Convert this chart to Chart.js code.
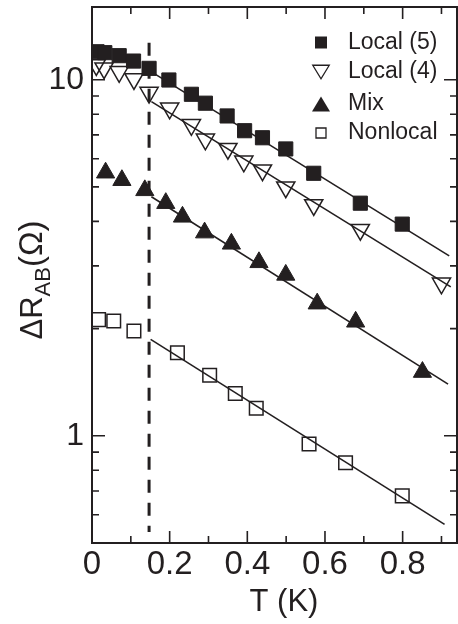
<!DOCTYPE html>
<html>
<head>
<meta charset="utf-8">
<script src="https://cdn.jsdelivr.net/npm/chart.js@4.4.1/dist/chart.umd.min.js"></script>
<style>
  html, body { margin: 0; padding: 0; background: #fff; }
  #wrap { width: 458px; height: 624px; position: relative; }
</style>
</head>
<body>
<div id="wrap"><canvas id="chart" width="458" height="624"></canvas></div>
<script>
const FONT = '"Liberation Sans", Arial, Helvetica, sans-serif';
const INK = '#231f20';

// measured points, T in K, dR in ohm
const local5T = [0.013, 0.033, 0.070, 0.107, 0.147, 0.198, 0.256, 0.292, 0.348, 0.393, 0.439, 0.499, 0.571, 0.691, 0.799];
const local5R = [11.98, 11.91, 11.68, 11.28, 10.76, 9.98, 9.10, 8.59, 7.91, 7.19, 6.87, 6.39, 5.46, 4.50, 3.93];

const local4T = [0.011, 0.031, 0.070, 0.108, 0.147, 0.200, 0.256, 0.292, 0.350, 0.391, 0.439, 0.499, 0.571, 0.691, 0.900];
const local4R = [11.00, 10.77, 10.52, 10.05, 9.20, 8.31, 7.47, 6.80, 6.40, 5.90, 5.57, 4.99, 4.45, 3.79, 2.68];

const mixT = [0.035, 0.077, 0.136, 0.190, 0.233, 0.290, 0.359, 0.430, 0.499, 0.580, 0.679, 0.851];
const mixR = [5.48, 5.22, 4.89, 4.50, 4.12, 3.72, 3.46, 3.07, 2.83, 2.35, 2.09, 1.51];

const nonlocalT = [0.017, 0.056, 0.108, 0.220, 0.303, 0.369, 0.423, 0.559, 0.653, 0.799];
const nonlocalR = [2.12, 2.10, 1.97, 1.71, 1.48, 1.315, 1.195, 0.948, 0.840, 0.678];

// straight fits (end points)
const fitLocal5T = [0.151, 0.920];
const fitLocal5R = [10.55, 3.20];
const fitLocal4T = [0.153, 0.924];
const fitLocal4R = [8.68, 2.62];
const fitMixT = [0.153, 0.917];
const fitMixR = [4.69, 1.397];
const fitNonlocalT = [0.151, 0.908];
const fitNonlocalR = [1.866, 0.564];

// vertical dashed marker
const cutoffT = [0.147, 0.147];
const cutoffR = [12.7, 0.537];

// axes
const xMin = 0, xMax = 0.94;
const yMin = 0.5, yMax = 16;
const xLabelTicks = [0, 0.2, 0.4, 0.6, 0.8];
const xMinorTicks = [0.1, 0.3, 0.5, 0.7, 0.9];
const yLabelTicks = [1, 10];
const yMinorTicks = [0.6, 0.7, 0.8, 0.9, 2, 3, 4, 5, 6, 7, 8, 9];

function pts(xs, ys) {
  return xs.map((x, i) => ({ x, y: ys[i] }));
}

function markerSet(label, xs, ys, style, filled, radius, rotation) {
  return {
    label,
    data: pts(xs, ys),
    showLine: false,
    pointStyle: style,
    pointRadius: radius,
    pointHoverRadius: radius,
    pointRotation: rotation || 0,
    pointBackgroundColor: filled ? INK : 'rgba(0,0,0,0)',
    pointBorderColor: INK,
    pointBorderWidth: filled ? 1 : 1.5,
  };
}

function fitSet(xs, ys) {
  return {
    label: '',
    data: pts(xs, ys),
    showLine: true,
    pointRadius: 0,
    borderColor: INK,
    borderWidth: 1.6,
    fill: false,
  };
}

// frame, inward ticks, titles, legend
const decorPlugin = {
  id: 'decor',
  afterDraw(chart) {
    const { ctx, chartArea: a, scales } = chart;
    const xs = scales.x, ys = scales.y;
    ctx.save();
    ctx.strokeStyle = INK;
    ctx.lineWidth = 2;
    ctx.strokeRect(a.left, a.top, a.right - a.left, a.bottom - a.top);

    ctx.lineWidth = 1.6;
    ctx.beginPath();
    const xt = (v, len) => {
      const p = xs.getPixelForValue(v);
      ctx.moveTo(p, a.bottom); ctx.lineTo(p, a.bottom - len);
      ctx.moveTo(p, a.top); ctx.lineTo(p, a.top + len);
    };
    const yt = (v, len) => {
      const p = ys.getPixelForValue(v);
      ctx.moveTo(a.left, p); ctx.lineTo(a.left + len, p);
      ctx.moveTo(a.right, p); ctx.lineTo(a.right - len, p);
    };
    xLabelTicks.forEach((v) => xt(v, 12));
    xMinorTicks.forEach((v) => xt(v, 7));
    yLabelTicks.forEach((v) => yt(v, 13));
    yMinorTicks.forEach((v) => yt(v, 7));
    ctx.stroke();

    // x title
    ctx.fillStyle = INK;
    ctx.font = '31px ' + FONT;
    ctx.textAlign = 'center';
    ctx.textBaseline = 'alphabetic';
    ctx.fillText('T (K)', 284, 611);

    // y title with subscript
    const parts = [
      { t: '\u0394R', size: 31, dy: 0 },
      { t: 'AB', size: 22, dy: 8 },
      { t: '(\u03A9)', size: 33, dy: 0 },
    ];
    let total = 0;
    parts.forEach((p) => {
      ctx.font = p.size + 'px ' + FONT;
      p.w = ctx.measureText(p.t).width;
      total += p.w;
    });
    ctx.translate(42, 280);
    ctx.rotate(-Math.PI / 2);
    ctx.textAlign = 'left';
    let cx = -total / 2;
    parts.forEach((p) => {
      ctx.font = p.size + 'px ' + FONT;
      ctx.fillText(p.t, cx, p.dy);
      cx += p.w;
    });
    ctx.restore();

    // legend
    ctx.save();
    const rows = [
      { i: 0, y: 42.5, kind: 'sq', fill: true, s: 12 },
      { i: 1, y: 72, kind: 'down', fill: false, w: 16.5, h: 13.5 },
      { i: 2, y: 104, kind: 'up', fill: true, w: 18, h: 15 },
      { i: 3, y: 133, kind: 'sq', fill: false, s: 10 },
    ];
    const mx = 321;
    ctx.strokeStyle = INK;
    ctx.fillStyle = INK;
    ctx.lineWidth = 1.3;
    rows.forEach((r) => {
      ctx.beginPath();
      if (r.kind === 'sq') {
        ctx.rect(mx - r.s / 2, r.y - r.s / 2, r.s, r.s);
      } else if (r.kind === 'down') {
        ctx.moveTo(mx - r.w / 2, r.y - r.h / 2);
        ctx.lineTo(mx + r.w / 2, r.y - r.h / 2);
        ctx.lineTo(mx, r.y + r.h / 2);
        ctx.closePath();
      } else {
        ctx.moveTo(mx - r.w / 2, r.y + r.h / 2);
        ctx.lineTo(mx + r.w / 2, r.y + r.h / 2);
        ctx.lineTo(mx, r.y - r.h / 2);
        ctx.closePath();
      }
      if (r.fill) ctx.fill(); else ctx.stroke();
      ctx.font = '23px ' + FONT;
      ctx.textAlign = 'left';
      ctx.textBaseline = 'middle';
      ctx.fillText(chart.data.datasets[r.i].label, 348, r.y);
    });
    ctx.restore();
  },
};

const chart = new Chart(document.getElementById('chart'), {
  type: 'scatter',
  data: {
    datasets: [
      markerSet('Local (5)', local5T, local5R, 'rect', true, 10),
      markerSet('Local (4)', local4T, local4R, 'triangle', false, 10.5, 180),
      markerSet('Mix', mixT, mixR, 'triangle', true, 10.5),
      markerSet('Nonlocal', nonlocalT, nonlocalR, 'rect', false, 9.6),
      fitSet(fitLocal5T, fitLocal5R),
      fitSet(fitLocal4T, fitLocal4R),
      fitSet(fitMixT, fitMixR),
      fitSet(fitNonlocalT, fitNonlocalR),
      {
        label: '',
        data: pts(cutoffT, cutoffR),
        showLine: true,
        pointRadius: 0,
        borderColor: INK,
        borderWidth: 3,
        borderDash: [13, 10],
        fill: false,
      },
    ],
  },
  options: {
    responsive: false,
    animation: false,
    layout: { autoPadding: false, padding: { top: 7, right: 1, left: 0, bottom: 0 } },
    plugins: { legend: { display: false }, tooltip: { enabled: false } },
    scales: {
      x: {
        type: 'linear',
        min: xMin,
        max: xMax,
        grid: { display: false, drawTicks: false },
        border: { display: false },
        afterBuildTicks: (s) => { s.ticks = xLabelTicks.map((v) => ({ value: v })); },
        afterFit: (s) => {
          s.height = 81;
          s.paddingLeft = 0;
          s.paddingRight = 0;
        },
        ticks: {
          padding: 2,
          color: INK,
          font: { family: FONT, size: 33, lineHeight: 1.2 },
          maxRotation: 0,
          callback: (v) => String(v),
        },
      },
      y: {
        type: 'logarithmic',
        min: yMin,
        max: yMax,
        grid: { display: false, drawTicks: false },
        border: { display: false },
        afterBuildTicks: (s) => { s.ticks = yLabelTicks.map((v) => ({ value: v })); },
        afterFit: (s) => {
          s.width = 92;
          s.paddingTop = 0;
          s.paddingBottom = 0;
        },
        ticks: {
          padding: 8,
          color: INK,
          font: { family: FONT, size: 32 },
          callback: (v) => String(v),
        },
      },
    },
  },
  plugins: [decorPlugin],
});
</script>
</body>
</html>
